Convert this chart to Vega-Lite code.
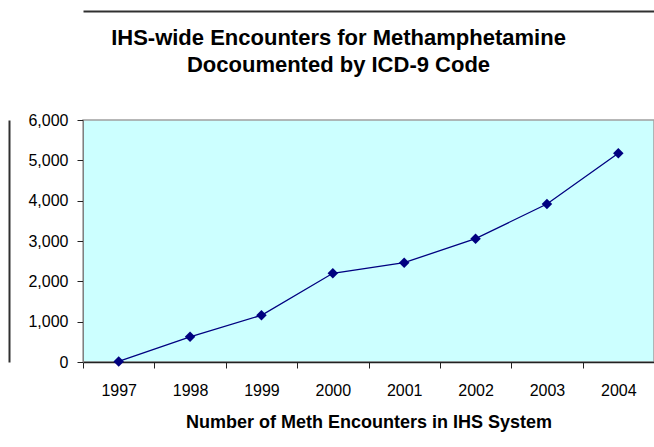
{
  "$schema": "https://vega.github.io/schema/vega-lite/v6.json",
  "width": 571,
  "height": 242,
  "autosize": {"type": "none"},
  "padding": {"left": 83, "top": 120, "right": 0, "bottom": 85},
  "background": "white",
  "title": {
    "text": ["IHS-wide Encounters for Methamphetamine", "Docoumented by ICD-9 Code"],
    "font": "Liberation Sans",
    "fontSize": 22,
    "fontWeight": "bold",
    "color": "black",
    "lineHeight": 27,
    "offset": -66,
    "frame": "group",
    "dx": -30,
    "anchor": "middle"
  },
  "config": {
    "view": {"fill": "#CCFFFF", "stroke": "#A0A0A0", "strokeWidth": 1.5},
    "font": "Liberation Sans"
  },
  "data": {
    "values": [
      {"year": "1997", "encounters": 15},
      {"year": "1998", "encounters": 625},
      {"year": "1999", "encounters": 1158},
      {"year": "2000", "encounters": 2199},
      {"year": "2001", "encounters": 2463},
      {"year": "2002", "encounters": 3058},
      {"year": "2003", "encounters": 3918},
      {"year": "2004", "encounters": 5174}
    ]
  },
  "resolve": {"axis": {"x": "independent", "y": "independent"}},
  "layer": [
    {
      "mark": {"type": "line", "color": "#000080", "strokeWidth": 1.3},
      "encoding": {
        "x": {
          "field": "year",
          "type": "ordinal",
          "scale": {"type": "band", "paddingInner": 0, "paddingOuter": 0},
          "axis": {
            "title": "Number of Meth Encounters in IHS System",
            "titleFont": "Liberation Sans",
            "titleFontSize": 18,
            "titleFontWeight": "bold",
            "titleColor": "black",
            "titlePadding": 15,
            "labelAngle": 0,
            "labelFont": "Liberation Sans",
            "labelFontSize": 16,
            "labelColor": "black",
            "labelPadding": 14,
            "tickBand": "extent",
            "tickSize": 6,
            "tickColor": "#222222",
            "domainColor": "#222222",
            "domainWidth": 1.5,
            "grid": false
          }
        },
        "y": {
          "field": "encounters",
          "type": "quantitative",
          "scale": {"domain": [0, 6000], "nice": false},
          "axis": {
            "title": null,
            "values": [0, 1000, 2000, 3000, 4000, 5000, 6000],
            "format": ",d",
            "labelFont": "Liberation Sans",
            "labelFontSize": 16,
            "labelColor": "black",
            "labelPadding": 9,
            "tickSize": 6,
            "tickColor": "#222222",
            "domainColor": "#808080",
            "grid": false
          }
        }
      }
    },
    {
      "mark": {"type": "point", "shape": "diamond", "filled": true, "color": "#000080", "size": 110, "opacity": 1},
      "encoding": {
        "x": {
          "field": "year",
          "type": "ordinal",
          "axis": {
            "orient": "top",
            "offset": 109,
            "title": null,
            "labels": false,
            "ticks": false,
            "grid": false,
            "domainColor": "#303030",
            "domainWidth": 2
          }
        },
        "y": {
          "field": "encounters",
          "type": "quantitative",
          "axis": {
            "orient": "left",
            "offset": 74,
            "title": null,
            "labels": false,
            "ticks": false,
            "grid": false,
            "domainColor": "#303030",
            "domainWidth": 2
          }
        }
      }
    }
  ]
}
